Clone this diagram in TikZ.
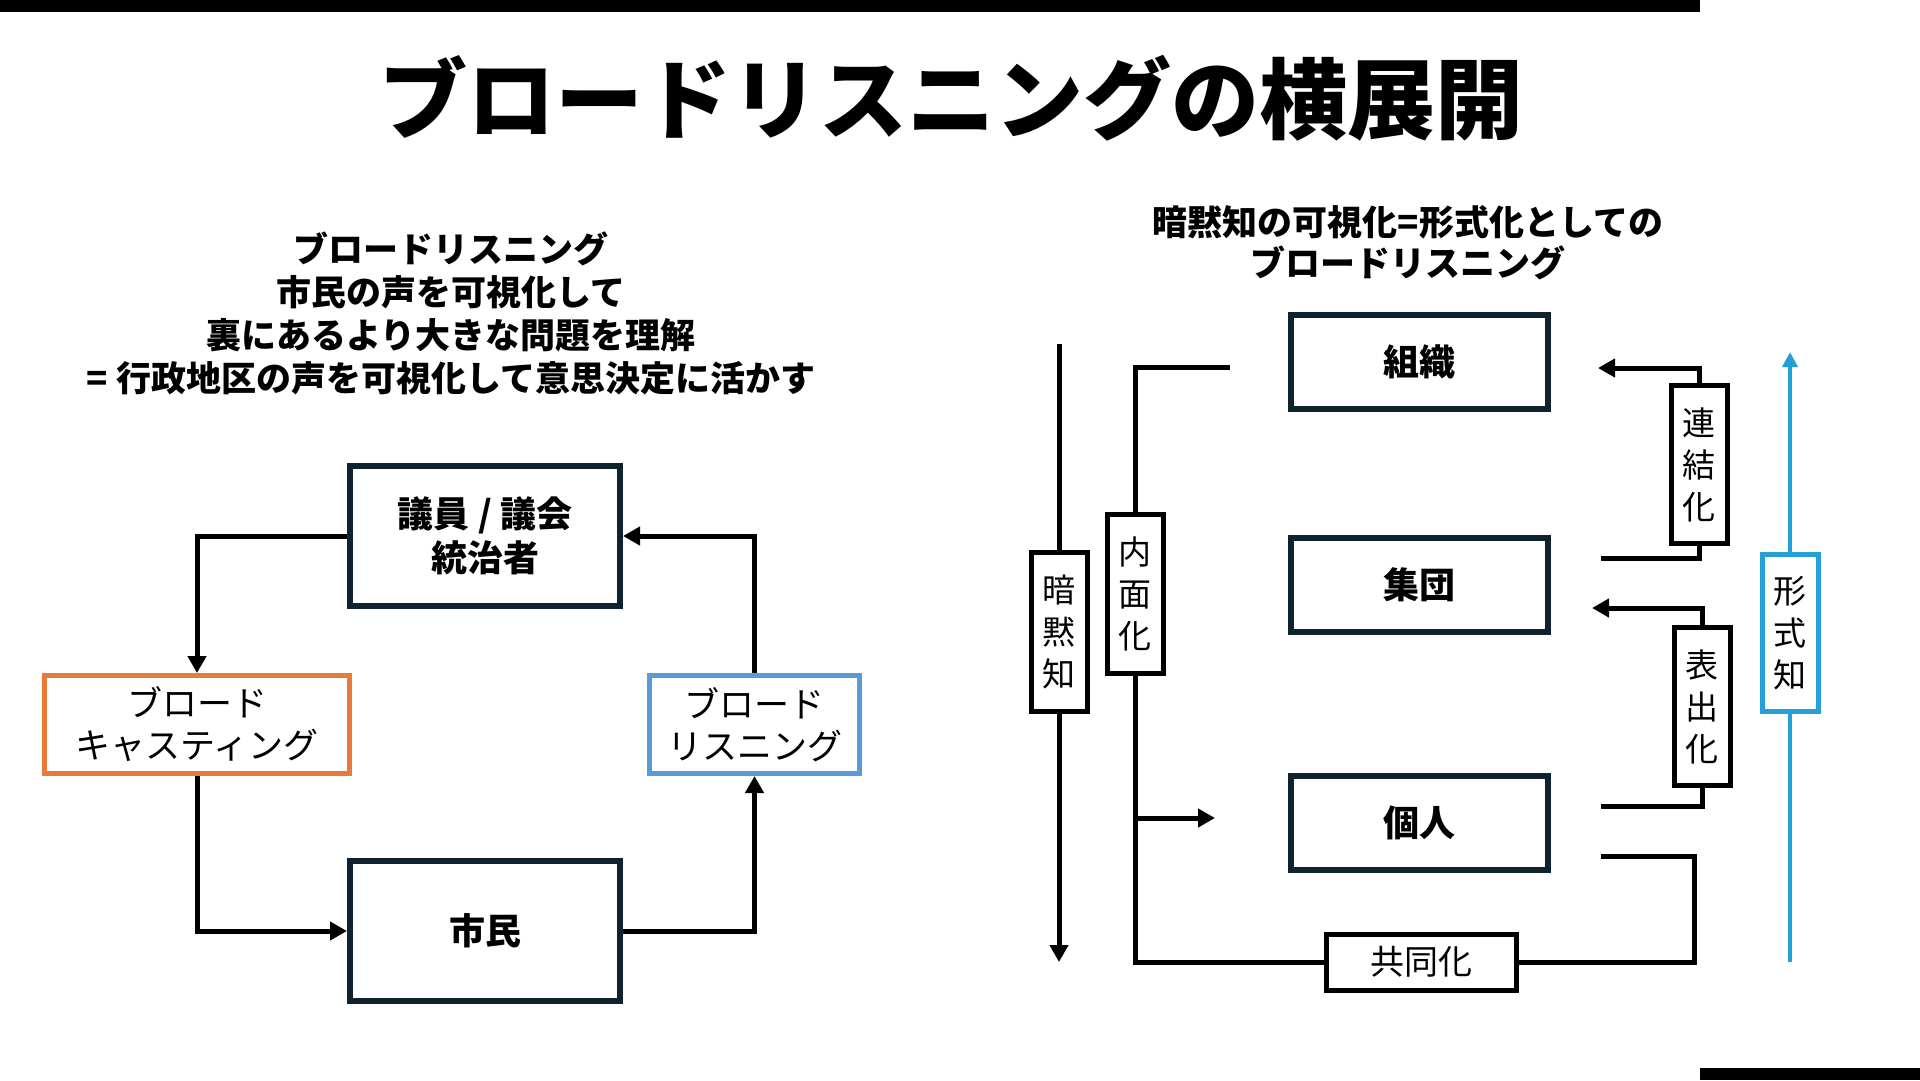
\documentclass[tikz,border=0pt]{standalone}
\usepackage{fontspec}
\setmainfont{Noto Sans CJK JP}
\usetikzlibrary{arrows.meta}
\definecolor{navy}{RGB}{14,34,48}
\definecolor{bcorange}{RGB}{233,123,58}
\definecolor{blblue}{RGB}{91,155,213}
\definecolor{cyanb}{RGB}{36,160,214}
\tikzset{
  bigbox/.style={draw=navy, line width=6pt, inner sep=0pt, align=center,
    font=\fontsize{36}{44}\selectfont\bfseries},
  colbox/.style={line width=5pt, inner sep=0pt, align=center,
    font=\fontsize{35}{42}\selectfont},
  vbox/.style={draw=black, line width=5pt, inner sep=0pt, align=center,
    minimum width=56pt, font=\fontsize{33}{42}\selectfont},
  conn/.style={line width=5pt, draw=black},
  arr/.style={conn, -{Triangle[length=17pt,width=18pt]}},
  bluearr/.style={line width=4.5pt, draw=cyanb, -{Triangle[length=15pt,width=15pt]}},
  subt/.style={align=center, font=\fontsize{35}{43}\selectfont\bfseries}
}
\begin{document}
\begin{tikzpicture}[x=1pt,y=-1pt]
\useasboundingbox (0,0) rectangle (1920,1080);
% bars
\fill[black] (0,0) rectangle (1700,12);
\fill[black] (1700,1068) rectangle (1920,1080);
% title
\node[font=\fontsize{88}{100}\selectfont\bfseries] (title) at (951,98) {ブロードリスニングの横展開};
% left subtitle
\node[subt] (lsub) at (451,313) {ブロードリスニング\\市民の声を可視化して\\裏にあるより大きな問題を理解\\= 行政地区の声を可視化して意思決定に活かす};
% right subtitle
\node[subt, font=\fontsize{35}{41}\selectfont\bfseries] (rsub) at (1408,243) {暗黙知の可視化=形式化としての\\ブロードリスニング};

% ---- left diagram
\node[bigbox, minimum width=270pt, minimum height=140pt] (giin) at (485,536) {議員 / 議会\\統治者};
\node[bigbox, minimum width=270pt, minimum height=140pt] (shimin) at (485,931) {市民};
\node[colbox, draw=bcorange, minimum width=305pt, minimum height=98pt] (bc) at (197,724.5) {ブロード\\キャスティング};
\node[colbox, draw=blblue, minimum width=210pt, minimum height=98pt] (bl) at (754.5,724.5) {ブロード\\リスニング};
\draw[arr] (giin.west) -| (bc.north);
\draw[arr] (bc.south) |- (shimin.west);
\draw[arr] (shimin.east) -| (bl.south);
\draw[arr] (bl.north) |- (giin.east);

% ---- right diagram
\node[bigbox, minimum width=257pt, minimum height=94pt] (soshiki) at (1419,362) {組織};
\node[bigbox, minimum width=257pt, minimum height=94pt] (shudan) at (1419,585) {集団};
\node[bigbox, minimum width=257pt, minimum height=94pt] (kojin) at (1419,823) {個人};

\node[vbox, minimum height=159pt] (anmoku) at (1059,632) {暗\\黙\\知};
\node[vbox, minimum height=159pt] (naimen) at (1135,594) {内\\面\\化};
\node[vbox, minimum height=158pt] (renketsu) at (1699,464.5) {連\\結\\化};
\node[vbox, minimum height=158pt] (hyoshutsu) at (1702,706.5) {表\\出\\化};
\node[vbox, draw=cyanb, minimum height=157pt] (keishiki) at (1790,633) {形\\式\\知};
\node[vbox, minimum width=190pt, minimum height=56pt, font=\fontsize{34}{40}\selectfont] (kyodo) at (1421.5,962) {共同化};

% 暗黙知 line
\coordinate (am-top) at (1059,344);
\coordinate (am-end) at (1059,962);
\draw[conn] (am-top) -- (anmoku.north);
\draw[arr] (anmoku.south) -- (am-end);

% 内面化 / 共同化 loop
\coordinate (nm-start) at (1230,367);
\coordinate (nm-branch) at (1135,818);
\coordinate (nm-tip) at (1215,818);
\draw[conn] (nm-start) -| (naimen.north);
\draw[conn] (naimen.south) |- (kyodo.west);
\draw[arr] (nm-branch) -- (nm-tip);
\coordinate (kj-corner) at (1694,856);
\coordinate (kj-end) at (1601,856);
\draw[conn] (kyodo.east) -| (kj-corner) -- (kj-end);

% 連結化
\coordinate (rk-tip) at (1598,368);
\coordinate (rk-start) at (1601,558);
\draw[arr] (renketsu.north) |- (rk-tip);
\draw[conn] (renketsu.south) |- (rk-start);

% 表出化
\coordinate (hs-tip) at (1592,608);
\coordinate (hs-start) at (1601,806);
\draw[arr] (hyoshutsu.north) |- (hs-tip);
\draw[conn] (hyoshutsu.south) |- (hs-start);

% 形式知
\coordinate (ks-tip) at (1790,352);
\coordinate (ks-end) at (1790,962);
\draw[bluearr] (keishiki.north) -- (ks-tip);
\draw[line width=4.5pt, draw=cyanb] (keishiki.south) -- (ks-end);
\end{tikzpicture}
\end{document}
